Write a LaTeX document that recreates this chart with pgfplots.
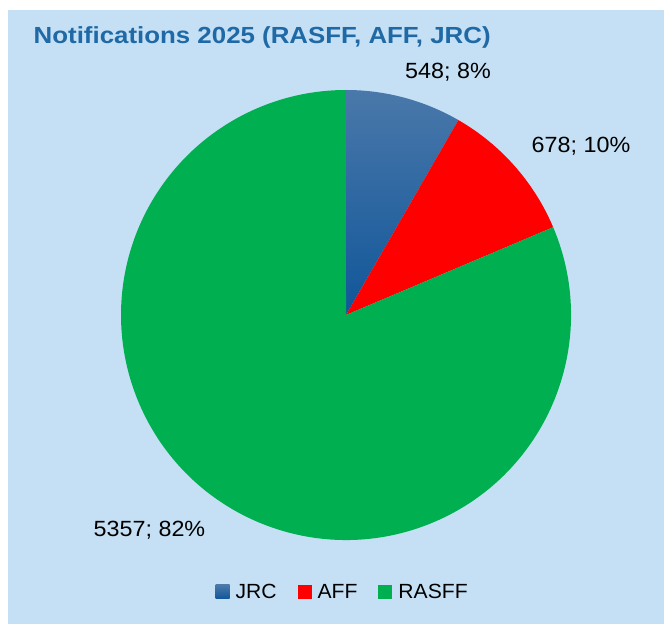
\documentclass[border=0pt]{standalone}
\usepackage{pgfplots}
\pgfplotsset{compat=1.18}
\usepackage{pgfplotstable}
\usepackage{fontspec}
\setmainfont{Liberation Sans}
\newfontfamily\titlefont[FakeStretch=1.11]{Liberation Sans}
\newfontfamily\labelfont[FakeStretch=1.06]{Liberation Sans}
\newfontfamily\legendfont[FakeStretch=1.03]{Liberation Sans}
\definecolor{bgblue}{RGB}{197,224,244}
\definecolor{titleblue}{RGB}{31,106,166}
\definecolor{jrctop}{RGB}{74,120,170}
\definecolor{jrcbot}{RGB}{16,86,153}
\definecolor{affred}{RGB}{255,0,0}
\definecolor{rasffgreen}{RGB}{0,176,80}

\pgfplotstableread{
label value
JRC 548
AFF 678
RASFF 5357
}\piedata

\begin{document}
\begin{tikzpicture}
\pgfplotstablegetelem{0}{value}\of\piedata \let\vA\pgfplotsretval
\pgfplotstablegetelem{1}{value}\of\piedata \let\vB\pgfplotsretval
\pgfplotstablegetelem{2}{value}\of\piedata \let\vC\pgfplotsretval
\pgfmathsetmacro\total{\vA+\vB+\vC}
\pgfmathsetmacro\aA{90-360*(\vA/\total)}
\pgfmathsetmacro\aB{\aA-360*(\vB/\total)}
\pgfmathsetmacro\aC{\aB-360*(\vC/\total)}
\begin{axis}[
  width=664pt, height=624pt, scale only axis,
  xmin=0, xmax=664, ymin=0, ymax=624,
  hide axis, clip=false,
  legend columns=3,
  legend style={draw=none, fill=none, at={(axis description cs:0.516,0.0513)}, anchor=center,
    font=\legendfont\fontsize{20.5}{24}\selectfont,
    /tikz/every even column/.append style={column sep=19pt}},
]
\fill[white] (axis cs:0,0) rectangle (axis cs:664,624);
\fill[bgblue] (axis cs:8,0) rectangle (axis cs:664,614);
\shade[top color=jrctop, bottom color=jrcbot] (axis cs:346,309) -- +(90:225pt) arc[start angle=90, end angle=\aA, radius=225pt] -- cycle;
\fill[affred] (axis cs:346,309) -- +(\aA:225pt) arc[start angle=\aA, end angle=\aB, radius=225pt] -- cycle;
\fill[rasffgreen] (axis cs:346,309) -- +(\aB:225pt) arc[start angle=\aB, end angle=\aC, radius=225pt] -- cycle;

\node[anchor=base west, inner sep=0pt, text=titleblue, font=\titlefont\bfseries\fontsize{23.3}{27}\selectfont] at (axis cs:33.5,580.7) {Notifications 2025 (RASFF, AFF, JRC)};
\node[anchor=base, inner sep=0pt, font=\labelfont\fontsize{22}{26}\selectfont] at (axis cs:448,545) {548; 8\%};
\node[anchor=base, inner sep=0pt, font=\labelfont\fontsize{22}{26}\selectfont] at (axis cs:581,471.7) {678; 10\%};
\node[anchor=base, inner sep=0pt, font=\labelfont\fontsize{22}{26}\selectfont] at (axis cs:149.5,87) {5357; 82\%};

\addlegendimage{legend image code/.code={\shade[top color=jrctop, bottom color=jrcbot, draw=none] (0pt,-7pt) rectangle (14pt,7pt); \path[draw=none, fill=none] (0pt,0pt) rectangle (18pt,0.1pt);}}
\addlegendentry{JRC}
\addlegendimage{legend image code/.code={\fill[affred, draw=none] (0pt,-7pt) rectangle (14pt,7pt); \path[draw=none, fill=none] (0pt,0pt) rectangle (18pt,0.1pt);}}
\addlegendentry{AFF}
\addlegendimage{legend image code/.code={\fill[rasffgreen, draw=none] (0pt,-7pt) rectangle (14pt,7pt); \path[draw=none, fill=none] (0pt,0pt) rectangle (18pt,0.1pt);}}
\addlegendentry{RASFF}
\end{axis}
\end{tikzpicture}
\end{document}
